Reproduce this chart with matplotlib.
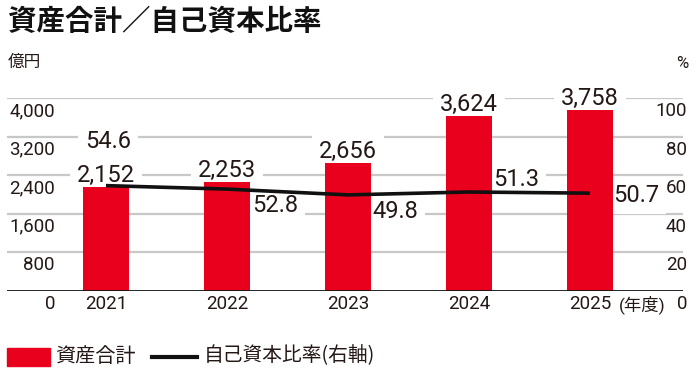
import matplotlib
matplotlib.use("Agg")
import matplotlib.pyplot as plt
import matplotlib.transforms as mtransforms
from matplotlib.patches import Rectangle
from matplotlib.lines import Line2D

# data
years = ["2021", "2022", "2023", "2024", "2025"]
total_assets = [2152, 2253, 2656, 3624, 3758]      # 億円
equity_ratio = [54.6, 52.8, 49.8, 51.3, 50.7]      # %
left_ticks = [0, 800, 1600, 2400, 3200, 4000]
right_ticks = [0, 20, 40, 60, 80, 100]

# label offsets for ratio values (pixels), layout only
ratio_offsets = [(2, 44), (48, -16), (47, -17), (47, 12), (46, -2)]

RED = "#e8001c"
TXT = "#231815"
NUM = ["Roboto", "Noto Sans CJK JP"]
CJK = ["Noto Sans CJK JP", "DejaVu Sans"]

fig = plt.figure(figsize=(7, 3.76), dpi=100)
ax = fig.add_axes([7 / 700, 1 - 291 / 376, (683 - 7) / 700, (291 - 98) / 376])
ax2 = ax.twinx()

x = list(range(len(years)))
ax.set_xlim(-0.818, 4.77)
ax.set_ylim(0, 4000)
ax2.set_ylim(0, 100)
for a in (ax, ax2):
    for s in a.spines.values():
        s.set_visible(False)
    a.set_xticks([])
    a.set_yticks([])
    a.patch.set_visible(False)

# gridlines
for t in left_ticks[1:]:
    ax.axhline(t, color="#c8c8c8", lw=1.6, zorder=0)

ax.bar(x, total_assets, width=0.38, color=RED, zorder=2)
ax.axhline(0, color="#111111", lw=2.0, zorder=3)

ax2.plot(x, equity_ratio, color="#111111", lw=2.6, zorder=4, solid_capstyle="butt")

# tick labels
below = mtransforms.offset_copy(ax.get_yaxis_transform(), fig=fig, x=0, y=-4, units="dots")
for t in left_ticks:
    ax.text((55 - 7) / 676, t, f"{t:,}", transform=below,
            ha="right", va="top", fontsize=13.5, family=NUM, color=TXT)
below2 = mtransforms.offset_copy(ax2.get_yaxis_transform(), fig=fig, x=4, y=-4, units="dots")
for t in right_ticks:
    ax2.text(1.0, t, f"{t}", transform=below2, ha="right", va="top",
             fontsize=13.5, family=NUM, color=TXT, zorder=6)

xbelow = mtransforms.offset_copy(ax.get_xaxis_transform(), fig=fig, x=0, y=-4, units="dots")
for i, y in enumerate(years):
    ax.text(i, 0, y, transform=xbelow, ha="center", va="top", fontsize=13.5,
            family=NUM, color=TXT)
ax.text(4.24, 0, "(年度)", transform=xbelow, ha="left", va="top", fontsize=12.5,
        family=NUM, color=TXT)

# value labels: white boxes break the gridlines but stay behind bars
for i, v in enumerate(total_assets):
    ax.annotate(f"{v:,}", (i, v), xytext=(0, 5), textcoords="offset pixels",
                ha="center", va="baseline", fontsize=17, family=NUM, color=TXT,
                zorder=1, bbox=dict(boxstyle="square,pad=0.3", fc="white", ec="none"))
for i, v in enumerate(equity_ratio):
    dx, dy = ratio_offsets[i]
    ax.annotate(f"{v}", (i, v), xycoords=ax2.transData, xytext=(dx, dy),
                textcoords="offset pixels", ha="center", va="center", fontsize=17,
                family=NUM, color=TXT, zorder=1,
                bbox=dict(boxstyle="square,pad=0.3", fc="white", ec="none"))

# title and units
fig.text(8 / 700, 1 - 22 / 376, "資産合計／自己資本比率", ha="left", va="center",
         fontsize=20.5, fontweight="bold", family=CJK, color="#111111")
fig.text(8 / 700, 1 - 62 / 376, "億円", ha="left", va="center", fontsize=12,
         family=CJK, color=TXT)
fig.text(688 / 700, 1 - 64 / 376, "%", ha="right", va="center", fontsize=12,
         family=NUM, color=TXT)

# legend
fig.patches.append(Rectangle((7 / 700, 1 - 366 / 376), 43 / 700, 18 / 376,
                             transform=fig.transFigure, color=RED))
fig.text(55 / 700, 1 - 356 / 376, "資産合計", ha="left", va="center", fontsize=14.5,
         family=CJK, color=TXT)
fig.lines.append(Line2D([152 / 700, 197 / 700], [1 - 357 / 376, 1 - 357 / 376],
                        transform=fig.transFigure, color="#111111", lw=3))
fig.text(204 / 700, 1 - 356 / 376, "自己資本比率(右軸)", ha="left", va="center",
         fontsize=14.2, family=CJK, color=TXT)

fig.savefig("out.png", dpi=100)
